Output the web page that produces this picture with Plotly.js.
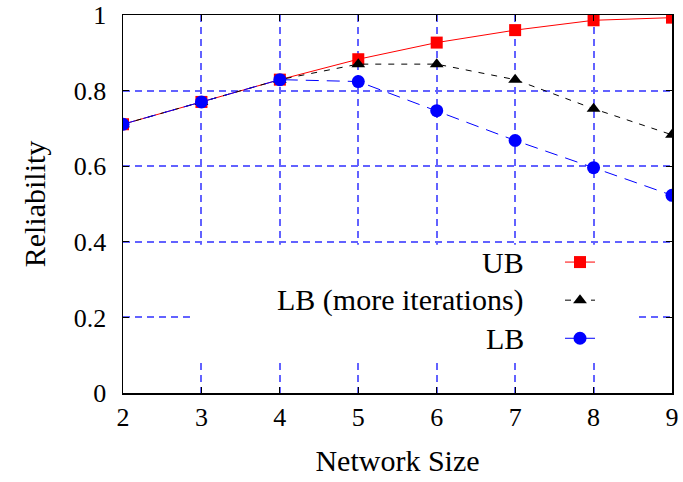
<!DOCTYPE html>
<html><head><meta charset="utf-8">
<script src="https://cdn.plot.ly/plotly-3.0.1.min.js"></script>
<style>html,body{margin:0;padding:0;background:#fff}#chart{width:683px;height:482px}</style>
</head><body><div id="chart"></div>
<script>
var networkSize = [2, 3, 4, 5, 6, 7, 8, 9];
var ub = [0.711, 0.770, 0.829, 0.883, 0.927, 0.960, 0.986, 0.993];
var lbMore = [0.711, 0.770, 0.829, 0.870, 0.870, 0.829, 0.752, 0.683];
var lb = [0.711, 0.770, 0.829, 0.824, 0.747, 0.668, 0.596, 0.523];
var seriesNames = ['UB', 'LB (more iterations)', 'LB'];
var yTicks = [0, 0.2, 0.4, 0.6, 0.8, 1];
var yTickText = ['0', '0.2', '0.4', '0.6', '0.8', '1'];

var serif = '"Liberation Serif", "Times New Roman", serif';
var traces = [
  {x: networkSize, y: ub, name: ' ', mode: 'lines+markers', type: 'scatter',
   line: {color: '#ff0000', width: 1}, marker: {symbol: 'square', color: '#ff0000', size: 12}},
  {x: networkSize, y: lbMore, name: ' ', mode: 'lines+markers', type: 'scatter',
   line: {color: '#000000', width: 1, dash: '6px,7px'}, marker: {symbol: 'triangle-up', color: '#000000', size: 12}},
  {x: networkSize, y: lb, name: ' ', mode: 'lines+markers', type: 'scatter',
   line: {color: '#0000ff', width: 1, dash: '13px,8px'}, marker: {symbol: 'circle', color: '#0000ff', size: 13}}
];
var legendY = [0.346, 0.245, 0.144];
var annotations = seriesNames.map(function (n, i) {
  return {text: n, xref: 'paper', yref: 'paper', x: 0.734, y: legendY[i], xanchor: 'right', yanchor: 'middle',
          showarrow: false, font: {family: serif, size: 30, color: '#000'}};
});
var gridBlue = '#6262ff';
var layout = {
  width: 683, height: 482,
  margin: {l: 123, r: 11, t: 15, b: 89},
  paper_bgcolor: '#fff', plot_bgcolor: '#fff',
  font: {family: serif, size: 26, color: '#000'},
  showlegend: true,
  legend: {x: 0.796, y: 0.41, xanchor: 'left', yanchor: 'top', bgcolor: 'rgba(0,0,0,0)',
           font: {family: serif, size: 27}, itemwidth: 30, tracegroupgap: 0},
  xaxis: {range: [2, 9], tickvals: networkSize, showgrid: true, gridcolor: gridBlue, griddash: '7px,5px', gridwidth: 2,
          showline: true, linecolor: '#000', linewidth: 1.5, mirror: 'ticks', ticks: 'inside', ticklen: 6, tickcolor: '#000',
          zeroline: false, title: {text: 'Network Size', font: {family: serif, size: 30}, standoff: 19},
          tickfont: {family: serif, size: 26}, ticklabeloverflow: 'allow'},
  yaxis: {range: [0, 1], tickvals: yTicks, ticktext: yTickText, showgrid: true, gridcolor: gridBlue, griddash: '7px,5px', gridwidth: 2,
          showline: true, linecolor: '#000', linewidth: 1.5, mirror: 'ticks', ticks: 'inside', ticklen: 6, tickcolor: '#000',
          zeroline: false, title: {text: 'Reliability', font: {family: serif, size: 30}, standoff: 19},
          tickfont: {family: serif, size: 26}, ticklabeloverflow: 'allow', ticklabelstandoff: 10},
  shapes: [{type: 'rect', xref: 'paper', yref: 'paper', x0: 0.122, x1: 0.933, y0: 0.088, y1: 0.392,
            fillcolor: '#fff', line: {width: 0}, layer: 'above'}],
  annotations: annotations
};
Plotly.newPlot('chart', traces, layout, {displayModeBar: false, staticPlot: true});
</script></body></html>
